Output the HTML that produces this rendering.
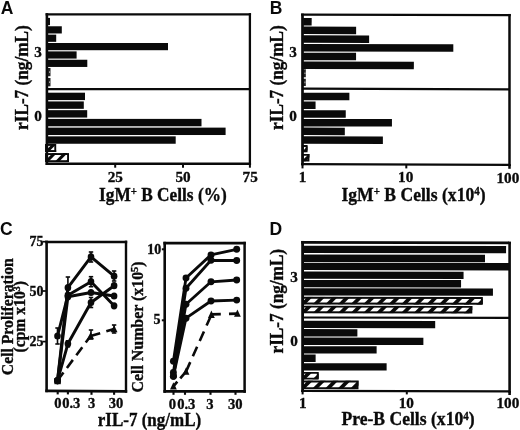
<!DOCTYPE html>
<html><head><meta charset="utf-8"><title>Figure</title>
<style>
html,body{margin:0;padding:0;background:#fff;}
body{width:520px;height:430px;overflow:hidden;font-family:"Liberation Serif",serif;}
svg{display:block;filter:blur(0.35px);}
</style></head><body>
<svg width="520" height="430" viewBox="0 0 520 430">
<rect width="520" height="430" fill="#fff"/>
<g fill="#0a0a0a">
<rect x="46" y="17.9" width="4.0" height="7.2" fill="#0a0a0a"/>
<rect x="46" y="26.269999999999996" width="15.8" height="7.2" fill="#0a0a0a"/>
<rect x="46" y="34.64" width="10.2" height="7.2" fill="#0a0a0a"/>
<rect x="46" y="43.01" width="122.0" height="7.2" fill="#0a0a0a"/>
<rect x="46" y="51.379999999999995" width="30.6" height="7.2" fill="#0a0a0a"/>
<rect x="46" y="59.74999999999999" width="41.3" height="7.2" fill="#0a0a0a"/>
<rect x="46" y="68.0" width="4.5" height="8.2" fill="#222"/>
<rect x="49.2" y="71.3" width="0.9" height="1.6" fill="#ccc"/>
<rect x="46" y="78.0" width="4.5" height="8.3" fill="#222"/>
<rect x="49.2" y="81.35000000000001" width="0.9" height="1.6" fill="#ccc"/>
<rect x="46" y="92.7" width="39.0" height="7.4" fill="#0a0a0a"/>
<rect x="46" y="101.43" width="37.8" height="7.4" fill="#0a0a0a"/>
<rect x="46" y="110.16" width="41.2" height="7.4" fill="#0a0a0a"/>
<rect x="46" y="118.89" width="155.5" height="7.4" fill="#0a0a0a"/>
<rect x="46" y="127.62" width="179.6" height="7.4" fill="#0a0a0a"/>
<rect x="46" y="136.35000000000002" width="129.7" height="7.4" fill="#0a0a0a"/>
<clipPath id="c1"><rect x="46" y="144.0" width="10.20" height="8.0"/></clipPath>
<g clip-path="url(#c1)">
<rect x="46" y="144.0" width="10.20" height="8.0" fill="#fff"/>
<polygon points="44.25,152.0 48.55,152.0 56.55,144.0 52.25,144.0" fill="#0a0a0a"/>
<polygon points="54.85,152.0 59.15,152.0 67.15,144.0 62.85,144.0" fill="#0a0a0a"/>
</g>
<rect x="46" y="144.95" width="9.25" height="6.1" fill="none" stroke="#0a0a0a" stroke-width="1.9"/>
<clipPath id="c2"><rect x="46" y="153.1" width="23.00" height="9.0"/></clipPath>
<g clip-path="url(#c2)">
<rect x="46" y="153.1" width="23.00" height="9.0" fill="#fff"/>
<polygon points="43.75,162.1 48.05,162.1 57.05,153.1 52.75,153.1" fill="#0a0a0a"/>
<polygon points="54.35,162.1 58.65,162.1 67.65,153.1 63.35,153.1" fill="#0a0a0a"/>
<polygon points="64.95,162.1 69.25,162.1 78.25,153.1 73.95,153.1" fill="#0a0a0a"/>
</g>
<rect x="46" y="154.04999999999998" width="22.05" height="7.1" fill="none" stroke="#0a0a0a" stroke-width="1.9"/>
<line x1="46.9" y1="13.15" x2="46.9" y2="165.0" stroke="#0a0a0a" stroke-width="2.6"/>
<line x1="249.9" y1="13.15" x2="249.9" y2="165.0" stroke="#0a0a0a" stroke-width="2.3"/>
<line x1="45.6" y1="14.3" x2="251.05" y2="14.3" stroke="#0a0a0a" stroke-width="2.3"/>
<line x1="45.6" y1="163.8" x2="251.05" y2="163.8" stroke="#0a0a0a" stroke-width="2.4"/>
<line x1="46.9" y1="89.1" x2="249.9" y2="89.1" stroke="#0a0a0a" stroke-width="2.2"/>
<line x1="115.2" y1="163.8" x2="115.2" y2="167.7" stroke="#0a0a0a" stroke-width="2.0"/>
<line x1="183" y1="163.8" x2="183" y2="167.7" stroke="#0a0a0a" stroke-width="2.0"/>
<line x1="249.9" y1="163.8" x2="249.9" y2="167.7" stroke="#0a0a0a" stroke-width="2.0"/>
<text x="0.8" y="14" font-family="Liberation Sans" font-weight="bold" font-size="17.50" text-anchor="start" stroke="#0a0a0a" stroke-width="0.0" >A</text>
<text x="115.3" y="182.4" font-family="Liberation Serif" font-weight="bold" font-size="15.20" text-anchor="middle" stroke="#0a0a0a" stroke-width="0.35" >25</text>
<text x="183" y="182.4" font-family="Liberation Serif" font-weight="bold" font-size="15.20" text-anchor="middle" stroke="#0a0a0a" stroke-width="0.35" >50</text>
<text x="250.2" y="182.4" font-family="Liberation Serif" font-weight="bold" font-size="15.20" text-anchor="middle" stroke="#0a0a0a" stroke-width="0.35" >75</text>
<text x="38" y="57" font-family="Liberation Serif" font-weight="bold" font-size="15.20" text-anchor="middle" stroke="#0a0a0a" stroke-width="0.35" >3</text>
<text x="38" y="121" font-family="Liberation Serif" font-weight="bold" font-size="15.20" text-anchor="middle" stroke="#0a0a0a" stroke-width="0.35" >0</text>
<text x="0" y="0" font-family="Liberation Serif" font-weight="bold" font-size="18.06" text-anchor="middle" transform="translate(28 77.6) rotate(-90) scale(0.9524 1)" stroke="#0a0a0a" stroke-width="0.35" >rIL-7 (ng/mL)</text>
<text x="0" y="0" font-family="Liberation Serif" font-weight="bold" font-size="18.34" text-anchor="middle" transform="translate(162.9 200.7) scale(0.9434 1)" stroke="#0a0a0a" stroke-width="0.35" >IgM<tspan font-size="11.5" dy="-5.5">+</tspan><tspan dy="5.5"> B Cells (%)</tspan></text>
<g transform="rotate(0.14 302 90)">
<rect x="303" y="17.9" width="8.5" height="7.5" fill="#0a0a0a"/>
<rect x="303" y="26.599999999999998" width="53.0" height="7.5" fill="#0a0a0a"/>
<rect x="303" y="35.3" width="66.0" height="7.5" fill="#0a0a0a"/>
<rect x="303" y="44.0" width="150.2" height="7.5" fill="#0a0a0a"/>
<rect x="303" y="52.699999999999996" width="53.0" height="7.5" fill="#0a0a0a"/>
<rect x="303" y="61.4" width="110.8" height="7.5" fill="#0a0a0a"/>
<rect x="303" y="69.2" width="2.8" height="8.0" fill="#222"/>
<rect x="304.5" y="72.4" width="0.9" height="1.6" fill="#ccc"/>
<rect x="303" y="78.7" width="2.8" height="7.4" fill="#222"/>
<rect x="304.5" y="81.60000000000001" width="0.9" height="1.6" fill="#ccc"/>
<rect x="303" y="92.7" width="46.4" height="7.5" fill="#0a0a0a"/>
<rect x="303" y="101.43" width="12.6" height="7.5" fill="#0a0a0a"/>
<rect x="303" y="110.16" width="42.8" height="7.5" fill="#0a0a0a"/>
<rect x="303" y="118.89" width="89.0" height="7.5" fill="#0a0a0a"/>
<rect x="303" y="127.62" width="41.9" height="7.5" fill="#0a0a0a"/>
<rect x="303" y="136.35000000000002" width="80.0" height="7.5" fill="#0a0a0a"/>
<clipPath id="c3"><rect x="303" y="145" width="4.70" height="7.3"/></clipPath>
<g clip-path="url(#c3)">
<rect x="303" y="145" width="4.70" height="7.3" fill="#fff"/>
<polygon points="301.60,152.3 305.90,152.3 313.20,145 308.90,145" fill="#0a0a0a"/>
</g>
<rect x="303" y="145.95" width="3.75" height="5.4" fill="none" stroke="#0a0a0a" stroke-width="1.9"/>
<clipPath id="c4"><rect x="303" y="153.9" width="6.60" height="7.6"/></clipPath>
<g clip-path="url(#c4)">
<rect x="303" y="153.9" width="6.60" height="7.6" fill="#fff"/>
<polygon points="301.45,161.5 305.75,161.5 313.35,153.9 309.05,153.9" fill="#0a0a0a"/>
<polygon points="311.75,161.5 316.05,161.5 323.65,153.9 319.35,153.9" fill="#0a0a0a"/>
</g>
<rect x="303" y="154.85" width="5.65" height="5.699999999999999" fill="none" stroke="#0a0a0a" stroke-width="1.9"/>
</g>
<line x1="302.5" y1="13.549999999999999" x2="302.5" y2="165.29999999999998" stroke="#0a0a0a" stroke-width="2.7"/>
<line x1="509.5" y1="13.95" x2="509.5" y2="166.1" stroke="#0a0a0a" stroke-width="2.5"/>
<line x1="301.15" y1="14.7" x2="510.75" y2="15.1" stroke="#0a0a0a" stroke-width="2.3"/>
<line x1="301.15" y1="164.1" x2="510.75" y2="164.9" stroke="#0a0a0a" stroke-width="2.4"/>
<line x1="302.5" y1="88.6" x2="509.5" y2="89.3" stroke="#0a0a0a" stroke-width="2.2"/>
<line x1="302.5" y1="164.3" x2="302.5" y2="168.4" stroke="#0a0a0a" stroke-width="2.0"/>
<line x1="406.3" y1="164.3" x2="406.3" y2="168.4" stroke="#0a0a0a" stroke-width="2.0"/>
<line x1="509.5" y1="164.9" x2="509.5" y2="168.8" stroke="#0a0a0a" stroke-width="2.5"/>
<text x="269.8" y="14.2" font-family="Liberation Sans" font-weight="bold" font-size="17.50" text-anchor="start" stroke="#0a0a0a" stroke-width="0.0" >B</text>
<text x="302.6" y="182.2" font-family="Liberation Serif" font-weight="bold" font-size="15.20" text-anchor="middle" stroke="#0a0a0a" stroke-width="0.35" >1</text>
<text x="405.7" y="182.4" font-family="Liberation Serif" font-weight="bold" font-size="15.20" text-anchor="middle" stroke="#0a0a0a" stroke-width="0.35" >10</text>
<text x="519.3" y="182.6" font-family="Liberation Serif" font-weight="bold" font-size="15.20" text-anchor="end" stroke="#0a0a0a" stroke-width="0.35" >100</text>
<text x="293" y="56.8" font-family="Liberation Serif" font-weight="bold" font-size="15.20" text-anchor="middle" stroke="#0a0a0a" stroke-width="0.35" >3</text>
<text x="293" y="121" font-family="Liberation Serif" font-weight="bold" font-size="15.20" text-anchor="middle" stroke="#0a0a0a" stroke-width="0.35" >0</text>
<text x="0" y="0" font-family="Liberation Serif" font-weight="bold" font-size="18.06" text-anchor="middle" transform="translate(283 77.6) rotate(-90) scale(0.9524 1)" stroke="#0a0a0a" stroke-width="0.35" >rIL-7 (ng/mL)</text>
<text x="0" y="0" font-family="Liberation Serif" font-weight="bold" font-size="18.48" text-anchor="middle" transform="translate(413.5 200.9) scale(0.9524 1)" stroke="#0a0a0a" stroke-width="0.35" >IgM<tspan font-size="11.5" dy="-5.5">+</tspan><tspan dy="5.5"> B Cells (x10</tspan><tspan font-size="11.5" dy="-5.5">4</tspan><tspan dy="5.5">)</tspan></text>
<g transform="rotate(0.08 302 316)">
<rect x="303" y="245.7" width="203.0" height="7.3" fill="#0a0a0a"/>
<rect x="303" y="254.6" width="181.9" height="7.3" fill="#0a0a0a"/>
<rect x="303" y="262.8" width="207.0" height="7.3" fill="#0a0a0a"/>
<rect x="303" y="271.5" width="160.5" height="7.3" fill="#0a0a0a"/>
<rect x="303" y="279.9" width="158.0" height="7.3" fill="#0a0a0a"/>
<rect x="303" y="288.3" width="189.9" height="7.3" fill="#0a0a0a"/>
<clipPath id="c5"><rect x="303" y="296.8" width="179.80" height="7.7"/></clipPath>
<g clip-path="url(#c5)">
<rect x="303" y="296.8" width="179.80" height="7.7" fill="#fff"/>
<polygon points="299.80,304.5 305.10,304.5 312.80,296.8 307.50,296.8" fill="#0a0a0a"/>
<polygon points="312.40,304.5 317.70,304.5 325.40,296.8 320.10,296.8" fill="#0a0a0a"/>
<polygon points="325.00,304.5 330.30,304.5 338.00,296.8 332.70,296.8" fill="#0a0a0a"/>
<polygon points="337.60,304.5 342.90,304.5 350.60,296.8 345.30,296.8" fill="#0a0a0a"/>
<polygon points="350.20,304.5 355.50,304.5 363.20,296.8 357.90,296.8" fill="#0a0a0a"/>
<polygon points="362.80,304.5 368.10,304.5 375.80,296.8 370.50,296.8" fill="#0a0a0a"/>
<polygon points="375.40,304.5 380.70,304.5 388.40,296.8 383.10,296.8" fill="#0a0a0a"/>
<polygon points="388.00,304.5 393.30,304.5 401.00,296.8 395.70,296.8" fill="#0a0a0a"/>
<polygon points="400.60,304.5 405.90,304.5 413.60,296.8 408.30,296.8" fill="#0a0a0a"/>
<polygon points="413.20,304.5 418.50,304.5 426.20,296.8 420.90,296.8" fill="#0a0a0a"/>
<polygon points="425.80,304.5 431.10,304.5 438.80,296.8 433.50,296.8" fill="#0a0a0a"/>
<polygon points="438.40,304.5 443.70,304.5 451.40,296.8 446.10,296.8" fill="#0a0a0a"/>
<polygon points="451.00,304.5 456.30,304.5 464.00,296.8 458.70,296.8" fill="#0a0a0a"/>
<polygon points="463.60,304.5 468.90,304.5 476.60,296.8 471.30,296.8" fill="#0a0a0a"/>
<polygon points="476.20,304.5 481.50,304.5 489.20,296.8 483.90,296.8" fill="#0a0a0a"/>
</g>
<rect x="303" y="297.75" width="178.85" height="5.800000000000001" fill="none" stroke="#0a0a0a" stroke-width="1.9"/>
<clipPath id="c6"><rect x="303" y="305.7" width="169.30" height="7.5"/></clipPath>
<g clip-path="url(#c6)">
<rect x="303" y="305.7" width="169.30" height="7.5" fill="#fff"/>
<polygon points="299.90,313.2 305.20,313.2 312.70,305.7 307.40,305.7" fill="#0a0a0a"/>
<polygon points="312.50,313.2 317.80,313.2 325.30,305.7 320.00,305.7" fill="#0a0a0a"/>
<polygon points="325.10,313.2 330.40,313.2 337.90,305.7 332.60,305.7" fill="#0a0a0a"/>
<polygon points="337.70,313.2 343.00,313.2 350.50,305.7 345.20,305.7" fill="#0a0a0a"/>
<polygon points="350.30,313.2 355.60,313.2 363.10,305.7 357.80,305.7" fill="#0a0a0a"/>
<polygon points="362.90,313.2 368.20,313.2 375.70,305.7 370.40,305.7" fill="#0a0a0a"/>
<polygon points="375.50,313.2 380.80,313.2 388.30,305.7 383.00,305.7" fill="#0a0a0a"/>
<polygon points="388.10,313.2 393.40,313.2 400.90,305.7 395.60,305.7" fill="#0a0a0a"/>
<polygon points="400.70,313.2 406.00,313.2 413.50,305.7 408.20,305.7" fill="#0a0a0a"/>
<polygon points="413.30,313.2 418.60,313.2 426.10,305.7 420.80,305.7" fill="#0a0a0a"/>
<polygon points="425.90,313.2 431.20,313.2 438.70,305.7 433.40,305.7" fill="#0a0a0a"/>
<polygon points="438.50,313.2 443.80,313.2 451.30,305.7 446.00,305.7" fill="#0a0a0a"/>
<polygon points="451.10,313.2 456.40,313.2 463.90,305.7 458.60,305.7" fill="#0a0a0a"/>
<polygon points="463.70,313.2 469.00,313.2 476.50,305.7 471.20,305.7" fill="#0a0a0a"/>
</g>
<rect x="303" y="306.65" width="168.35" height="5.6" fill="none" stroke="#0a0a0a" stroke-width="1.9"/>
<rect x="303" y="320.7" width="132.2" height="7.3" fill="#0a0a0a"/>
<rect x="303" y="329.1" width="54.4" height="7.3" fill="#0a0a0a"/>
<rect x="303" y="337.6" width="120.4" height="7.3" fill="#0a0a0a"/>
<rect x="303" y="346.2" width="73.7" height="7.3" fill="#0a0a0a"/>
<rect x="303" y="354.6" width="12.7" height="7.3" fill="#0a0a0a"/>
<rect x="303" y="363.2" width="83.7" height="7.3" fill="#0a0a0a"/>
<clipPath id="c7"><rect x="303" y="371.9" width="15.80" height="7.7"/></clipPath>
<g clip-path="url(#c7)">
<rect x="303" y="371.9" width="15.80" height="7.7" fill="#fff"/>
<polygon points="299.80,379.59999999999997 305.10,379.59999999999997 312.80,371.9 307.50,371.9" fill="#0a0a0a"/>
<polygon points="312.40,379.59999999999997 317.70,379.59999999999997 325.40,371.9 320.10,371.9" fill="#0a0a0a"/>
</g>
<rect x="303" y="372.84999999999997" width="14.85" height="5.800000000000001" fill="none" stroke="#0a0a0a" stroke-width="1.9"/>
<clipPath id="c8"><rect x="303" y="380.5" width="55.60" height="8.6"/></clipPath>
<g clip-path="url(#c8)">
<rect x="303" y="380.5" width="55.60" height="8.6" fill="#fff"/>
<polygon points="299.35,389.1 304.65,389.1 313.25,380.5 307.95,380.5" fill="#0a0a0a"/>
<polygon points="311.95,389.1 317.25,389.1 325.85,380.5 320.55,380.5" fill="#0a0a0a"/>
<polygon points="324.55,389.1 329.85,389.1 338.45,380.5 333.15,380.5" fill="#0a0a0a"/>
<polygon points="337.15,389.1 342.45,389.1 351.05,380.5 345.75,380.5" fill="#0a0a0a"/>
<polygon points="349.75,389.1 355.05,389.1 363.65,380.5 358.35,380.5" fill="#0a0a0a"/>
</g>
<rect x="303" y="381.45" width="54.65" height="6.699999999999999" fill="none" stroke="#0a0a0a" stroke-width="1.9"/>
</g>
<line x1="302.6" y1="240.95000000000002" x2="302.6" y2="392.09999999999997" stroke="#0a0a0a" stroke-width="2.8"/>
<line x1="509.6" y1="241.55" x2="509.6" y2="392.59999999999997" stroke="#0a0a0a" stroke-width="2.6"/>
<line x1="301.20000000000005" y1="242.3" x2="510.90000000000003" y2="242.9" stroke="#0a0a0a" stroke-width="2.7"/>
<line x1="301.20000000000005" y1="390.9" x2="510.90000000000003" y2="391.4" stroke="#0a0a0a" stroke-width="2.4"/>
<line x1="302.6" y1="317.5" x2="509.6" y2="317.9" stroke="#0a0a0a" stroke-width="2.2"/>
<line x1="302.6" y1="391" x2="302.6" y2="394.4" stroke="#0a0a0a" stroke-width="2.0"/>
<line x1="406.8" y1="391" x2="406.8" y2="394.4" stroke="#0a0a0a" stroke-width="2.0"/>
<line x1="509.6" y1="391.4" x2="509.6" y2="395" stroke="#0a0a0a" stroke-width="2.6"/>
<text x="269.6" y="235" font-family="Liberation Sans" font-weight="bold" font-size="17.50" text-anchor="start" stroke="#0a0a0a" stroke-width="0.0" >D</text>
<text x="302.8" y="407.8" font-family="Liberation Serif" font-weight="bold" font-size="15.20" text-anchor="middle" stroke="#0a0a0a" stroke-width="0.35" >1</text>
<text x="406.3" y="407.8" font-family="Liberation Serif" font-weight="bold" font-size="15.20" text-anchor="middle" stroke="#0a0a0a" stroke-width="0.35" >10</text>
<text x="519.3" y="407.7" font-family="Liberation Serif" font-weight="bold" font-size="15.20" text-anchor="end" stroke="#0a0a0a" stroke-width="0.35" >100</text>
<text x="294" y="282.3" font-family="Liberation Serif" font-weight="bold" font-size="15.20" text-anchor="middle" stroke="#0a0a0a" stroke-width="0.35" >3</text>
<text x="294" y="346.3" font-family="Liberation Serif" font-weight="bold" font-size="15.20" text-anchor="middle" stroke="#0a0a0a" stroke-width="0.35" >0</text>
<text x="0" y="0" font-family="Liberation Serif" font-weight="bold" font-size="18.06" text-anchor="middle" transform="translate(283 301.2) rotate(-90) scale(0.9524 1)" stroke="#0a0a0a" stroke-width="0.35" >rIL-7 (ng/mL)</text>
<text x="0" y="0" font-family="Liberation Serif" font-weight="bold" font-size="18.48" text-anchor="middle" transform="translate(408 425.4) scale(0.9524 1)" stroke="#0a0a0a" stroke-width="0.35" >Pre-B Cells (x10<tspan font-size="11.5" dy="-5.5">4</tspan><tspan dy="5.5">)</tspan></text>
<text x="0" y="235" font-family="Liberation Sans" font-weight="bold" font-size="17.50" text-anchor="start" stroke="#0a0a0a" stroke-width="0.0" >C</text>
<line x1="46.6" y1="240.65" x2="46.6" y2="392.2" stroke="#0a0a0a" stroke-width="2.6"/>
<line x1="126" y1="240.65" x2="126" y2="392.7" stroke="#0a0a0a" stroke-width="2.4"/>
<line x1="45.300000000000004" y1="241.9" x2="127.2" y2="241.9" stroke="#0a0a0a" stroke-width="2.5"/>
<line x1="45.300000000000004" y1="390.8" x2="127.2" y2="391.3" stroke="#0a0a0a" stroke-width="2.8"/>
<line x1="42.5" y1="241.7" x2="46" y2="241.7" stroke="#0a0a0a" stroke-width="1.7"/>
<text x="43.5" y="246.39999999999998" font-family="Liberation Serif" font-weight="bold" font-size="14.00" text-anchor="end" stroke="#0a0a0a" stroke-width="0.35" >75</text>
<line x1="42.5" y1="291" x2="46" y2="291" stroke="#0a0a0a" stroke-width="1.7"/>
<text x="43.5" y="295.7" font-family="Liberation Serif" font-weight="bold" font-size="14.00" text-anchor="end" stroke="#0a0a0a" stroke-width="0.35" >50</text>
<line x1="42.5" y1="341.6" x2="46" y2="341.6" stroke="#0a0a0a" stroke-width="1.7"/>
<text x="43.5" y="346.3" font-family="Liberation Serif" font-weight="bold" font-size="14.00" text-anchor="end" stroke="#0a0a0a" stroke-width="0.35" >25</text>
<line x1="57.7" y1="390.8" x2="57.7" y2="394.4" stroke="#0a0a0a" stroke-width="2.1"/>
<line x1="67.9" y1="390.8" x2="67.9" y2="394.4" stroke="#0a0a0a" stroke-width="2.1"/>
<line x1="91.5" y1="391.1" x2="91.5" y2="394.8" stroke="#0a0a0a" stroke-width="2.1"/>
<line x1="114.1" y1="391.1" x2="114.1" y2="394.8" stroke="#0a0a0a" stroke-width="2.1"/>
<polyline points="57.5,380.6 67.9,287.7 91,256.9 114.1,276.2" fill="none" stroke="#0a0a0a" stroke-width="2.95" stroke-linejoin="round"/>
<ellipse cx="57.5" cy="380.6" rx="3.3" ry="3.6" fill="#0a0a0a"/>
<ellipse cx="67.9" cy="287.7" rx="3.3" ry="3.6" fill="#0a0a0a"/>
<ellipse cx="91" cy="256.9" rx="3.3" ry="3.6" fill="#0a0a0a"/>
<ellipse cx="114.1" cy="276.2" rx="3.3" ry="3.6" fill="#0a0a0a"/>
<polyline points="57.5,336 67.9,295.2 91,281.7 114.1,305.8" fill="none" stroke="#0a0a0a" stroke-width="2.95" stroke-linejoin="round"/>
<ellipse cx="57.5" cy="336" rx="3.3" ry="3.6" fill="#0a0a0a"/>
<ellipse cx="67.9" cy="295.2" rx="3.3" ry="3.6" fill="#0a0a0a"/>
<ellipse cx="91" cy="281.7" rx="3.3" ry="3.6" fill="#0a0a0a"/>
<ellipse cx="114.1" cy="305.8" rx="3.3" ry="3.6" fill="#0a0a0a"/>
<polyline points="57.5,380.6 67.9,296.8 91,292.5 114.1,296" fill="none" stroke="#0a0a0a" stroke-width="2.95" stroke-linejoin="round"/>
<ellipse cx="57.5" cy="380.6" rx="3.3" ry="3.6" fill="#0a0a0a"/>
<ellipse cx="67.9" cy="296.8" rx="3.3" ry="3.6" fill="#0a0a0a"/>
<ellipse cx="91" cy="292.5" rx="3.3" ry="3.6" fill="#0a0a0a"/>
<ellipse cx="114.1" cy="296" rx="3.3" ry="3.6" fill="#0a0a0a"/>
<polyline points="57.5,380.6 67.9,343.8 91,302.5 114.1,285.7" fill="none" stroke="#0a0a0a" stroke-width="2.95" stroke-linejoin="round"/>
<ellipse cx="57.5" cy="380.6" rx="3.3" ry="3.6" fill="#0a0a0a"/>
<ellipse cx="67.9" cy="343.8" rx="3.3" ry="3.6" fill="#0a0a0a"/>
<ellipse cx="91" cy="302.5" rx="3.3" ry="3.6" fill="#0a0a0a"/>
<ellipse cx="114.1" cy="285.7" rx="3.3" ry="3.6" fill="#0a0a0a"/>
<line x1="57.5" y1="328" x2="57.5" y2="344" stroke="#0a0a0a" stroke-width="1.6"/><line x1="55.3" y1="328" x2="59.7" y2="328" stroke="#0a0a0a" stroke-width="1.6"/><line x1="55.3" y1="344" x2="59.7" y2="344" stroke="#0a0a0a" stroke-width="1.6"/>
<line x1="67.9" y1="277.0" x2="67.9" y2="298.0" stroke="#0a0a0a" stroke-width="1.6"/><line x1="65.7" y1="277.0" x2="70.10000000000001" y2="277.0" stroke="#0a0a0a" stroke-width="1.6"/><line x1="65.7" y1="298.0" x2="70.10000000000001" y2="298.0" stroke="#0a0a0a" stroke-width="1.6"/>
<line x1="91" y1="252" x2="91" y2="262" stroke="#0a0a0a" stroke-width="1.6"/><line x1="88.8" y1="252" x2="93.2" y2="252" stroke="#0a0a0a" stroke-width="1.6"/><line x1="88.8" y1="262" x2="93.2" y2="262" stroke="#0a0a0a" stroke-width="1.6"/>
<line x1="114.1" y1="271" x2="114.1" y2="281" stroke="#0a0a0a" stroke-width="1.6"/><line x1="111.89999999999999" y1="271" x2="116.3" y2="271" stroke="#0a0a0a" stroke-width="1.6"/><line x1="111.89999999999999" y1="281" x2="116.3" y2="281" stroke="#0a0a0a" stroke-width="1.6"/>
<line x1="91" y1="276.7" x2="91" y2="286.7" stroke="#0a0a0a" stroke-width="1.6"/><line x1="88.8" y1="276.7" x2="93.2" y2="276.7" stroke="#0a0a0a" stroke-width="1.6"/><line x1="88.8" y1="286.7" x2="93.2" y2="286.7" stroke="#0a0a0a" stroke-width="1.6"/>
<line x1="91" y1="297.5" x2="91" y2="307.5" stroke="#0a0a0a" stroke-width="1.6"/><line x1="88.8" y1="297.5" x2="93.2" y2="297.5" stroke="#0a0a0a" stroke-width="1.6"/><line x1="88.8" y1="307.5" x2="93.2" y2="307.5" stroke="#0a0a0a" stroke-width="1.6"/>
<line x1="67.9" y1="340.8" x2="67.9" y2="346.8" stroke="#0a0a0a" stroke-width="1.6"/><line x1="65.7" y1="340.8" x2="70.10000000000001" y2="340.8" stroke="#0a0a0a" stroke-width="1.6"/><line x1="65.7" y1="346.8" x2="70.10000000000001" y2="346.8" stroke="#0a0a0a" stroke-width="1.6"/>
<line x1="91" y1="330.0" x2="91" y2="339.0" stroke="#0a0a0a" stroke-width="1.6"/><line x1="88.8" y1="330.0" x2="93.2" y2="330.0" stroke="#0a0a0a" stroke-width="1.6"/><line x1="88.8" y1="339.0" x2="93.2" y2="339.0" stroke="#0a0a0a" stroke-width="1.6"/>
<line x1="114.1" y1="325" x2="114.1" y2="333" stroke="#0a0a0a" stroke-width="1.6"/><line x1="111.89999999999999" y1="325" x2="116.3" y2="325" stroke="#0a0a0a" stroke-width="1.6"/><line x1="111.89999999999999" y1="333" x2="116.3" y2="333" stroke="#0a0a0a" stroke-width="1.6"/>
<polyline points="57.5,380.6 90.6,336" fill="none" stroke="#0a0a0a" stroke-width="2.6" stroke-dasharray="10 5.8"/>
<polyline points="90.6,336 114.1,329" fill="none" stroke="#0a0a0a" stroke-width="2.6" stroke-dasharray="10 6.4"/>
<polygon points="90.6,332.022 93.993,339.315 87.207,339.315" fill="#0a0a0a"/>
<polygon points="114.1,325.022 117.493,332.315 110.707,332.315" fill="#0a0a0a"/>
<rect x="54.4" y="378" width="6.4" height="6.2" fill="#0a0a0a"/>
<text x="57.8" y="407.9" font-family="Liberation Serif" font-weight="bold" font-size="14.50" text-anchor="middle" stroke="#0a0a0a" stroke-width="0.35" >0</text>
<text x="71.2" y="407.9" font-family="Liberation Serif" font-weight="bold" font-size="14.50" text-anchor="middle" stroke="#0a0a0a" stroke-width="0.35" >0.3</text>
<text x="91.6" y="408.1" font-family="Liberation Serif" font-weight="bold" font-size="14.50" text-anchor="middle" stroke="#0a0a0a" stroke-width="0.35" >3</text>
<text x="116" y="408.4" font-family="Liberation Serif" font-weight="bold" font-size="14.50" text-anchor="middle" stroke="#0a0a0a" stroke-width="0.35" >30</text>
<text x="0" y="0" font-family="Liberation Serif" font-weight="bold" font-size="16.17" text-anchor="middle" transform="translate(12.7 316.7) rotate(-90) scale(0.9709 1)" stroke="#0a0a0a" stroke-width="0.35" >Cell Proliferation</text>
<text x="0" y="0" font-family="Liberation Serif" font-weight="bold" font-size="16.17" text-anchor="middle" transform="translate(25.4 316.8) rotate(-90) scale(0.9709 1)" stroke="#0a0a0a" stroke-width="0.35" >(cpm x10<tspan font-size="10" dy="-5.5">3</tspan><tspan dy="5.5">)</tspan></text>
<line x1="164.7" y1="241.79999999999998" x2="164.7" y2="392.79999999999995" stroke="#0a0a0a" stroke-width="2.6"/>
<line x1="244.6" y1="241.79999999999998" x2="244.6" y2="392.79999999999995" stroke="#0a0a0a" stroke-width="2.5"/>
<line x1="163.39999999999998" y1="243.1" x2="245.85" y2="243.1" stroke="#0a0a0a" stroke-width="2.6"/>
<line x1="163.39999999999998" y1="391.4" x2="245.85" y2="391.4" stroke="#0a0a0a" stroke-width="2.8"/>
<line x1="161.8" y1="249.3" x2="165" y2="249.3" stroke="#0a0a0a" stroke-width="2.0"/>
<text x="161.3" y="253.6" font-family="Liberation Serif" font-weight="bold" font-size="14.00" text-anchor="end" stroke="#0a0a0a" stroke-width="0.35" >10</text>
<line x1="161.8" y1="320.3" x2="165" y2="320.3" stroke="#0a0a0a" stroke-width="2.0"/>
<text x="160.6" y="323.6" font-family="Liberation Serif" font-weight="bold" font-size="14.00" text-anchor="end" stroke="#0a0a0a" stroke-width="0.35" >5</text>
<line x1="173.5" y1="391.4" x2="173.5" y2="394.8" stroke="#0a0a0a" stroke-width="2.1"/>
<line x1="185" y1="391.4" x2="185" y2="394.8" stroke="#0a0a0a" stroke-width="2.1"/>
<line x1="210.5" y1="391.4" x2="210.5" y2="394.8" stroke="#0a0a0a" stroke-width="2.1"/>
<line x1="235.5" y1="391.4" x2="235.5" y2="394.8" stroke="#0a0a0a" stroke-width="2.1"/>
<polyline points="173.4,361.3 186,278 211,254.9 236.7,249.3" fill="none" stroke="#0a0a0a" stroke-width="2.8" stroke-linejoin="round"/>
<ellipse cx="173.4" cy="361.3" rx="3.45" ry="3.45" fill="#0a0a0a"/>
<ellipse cx="186" cy="278" rx="3.45" ry="3.45" fill="#0a0a0a"/>
<ellipse cx="211" cy="254.9" rx="3.45" ry="3.45" fill="#0a0a0a"/>
<ellipse cx="236.7" cy="249.3" rx="3.45" ry="3.45" fill="#0a0a0a"/>
<polyline points="173.4,372.5 186,288.3 211,260.3 236.7,260.5" fill="none" stroke="#0a0a0a" stroke-width="2.8" stroke-linejoin="round"/>
<ellipse cx="173.4" cy="372.5" rx="3.45" ry="3.45" fill="#0a0a0a"/>
<ellipse cx="186" cy="288.3" rx="3.45" ry="3.45" fill="#0a0a0a"/>
<ellipse cx="211" cy="260.3" rx="3.45" ry="3.45" fill="#0a0a0a"/>
<ellipse cx="236.7" cy="260.5" rx="3.45" ry="3.45" fill="#0a0a0a"/>
<polyline points="173.4,376.3 186,304.3 211,281.8 236.7,280" fill="none" stroke="#0a0a0a" stroke-width="2.8" stroke-linejoin="round"/>
<ellipse cx="173.4" cy="376.3" rx="3.45" ry="3.45" fill="#0a0a0a"/>
<ellipse cx="186" cy="304.3" rx="3.45" ry="3.45" fill="#0a0a0a"/>
<ellipse cx="211" cy="281.8" rx="3.45" ry="3.45" fill="#0a0a0a"/>
<ellipse cx="236.7" cy="280" rx="3.45" ry="3.45" fill="#0a0a0a"/>
<polyline points="173.4,376.3 186,318.2 211,301 236.7,300.1" fill="none" stroke="#0a0a0a" stroke-width="2.8" stroke-linejoin="round"/>
<ellipse cx="173.4" cy="376.3" rx="3.45" ry="3.45" fill="#0a0a0a"/>
<ellipse cx="186" cy="318.2" rx="3.45" ry="3.45" fill="#0a0a0a"/>
<ellipse cx="211" cy="301" rx="3.45" ry="3.45" fill="#0a0a0a"/>
<ellipse cx="236.7" cy="300.1" rx="3.45" ry="3.45" fill="#0a0a0a"/>
<polyline points="173.4,386.3 186,371.6" fill="none" stroke="#0a0a0a" stroke-width="2.7" stroke-dasharray="9 4.5" stroke-dashoffset="3"/>
<polyline points="186,371.6 211.3,315" fill="none" stroke="#0a0a0a" stroke-width="2.6" stroke-dasharray="10.4 6.4 10.4 6.4 10.4 6.4 14 6"/>
<polyline points="211,314.4 237,313.6" fill="none" stroke="#0a0a0a" stroke-width="2.6" stroke-dasharray="9.8 8.2 9 30"/>
<polygon points="173.4,382.222 176.793,389.515 170.007,389.515" fill="#0a0a0a"/>
<polygon points="186,367.42199999999997 189.393,374.715 182.607,374.715" fill="#0a0a0a"/>
<polygon points="211.4,310.622 214.793,317.915 208.007,317.915" fill="#0a0a0a"/>
<polygon points="237.4,309.42199999999997 240.793,316.715 234.007,316.715" fill="#0a0a0a"/>
<text x="172.4" y="408.6" font-family="Liberation Serif" font-weight="bold" font-size="14.60" text-anchor="middle" stroke="#0a0a0a" stroke-width="0.35" >0</text>
<text x="186.3" y="408.6" font-family="Liberation Serif" font-weight="bold" font-size="14.60" text-anchor="middle" stroke="#0a0a0a" stroke-width="0.35" >0.3</text>
<text x="210" y="408.6" font-family="Liberation Serif" font-weight="bold" font-size="14.60" text-anchor="middle" stroke="#0a0a0a" stroke-width="0.35" >3</text>
<text x="235.3" y="408.6" font-family="Liberation Serif" font-weight="bold" font-size="14.60" text-anchor="middle" stroke="#0a0a0a" stroke-width="0.35" >30</text>
<text x="0" y="0" font-family="Liberation Serif" font-weight="bold" font-size="16.38" text-anchor="middle" transform="translate(143.2 327) rotate(-90) scale(0.9709 1)" stroke="#0a0a0a" stroke-width="0.35" >Cell Number (x10<tspan font-size="10.5" dy="-5.5">5</tspan><tspan dy="5.5">)</tspan></text>
<text x="0" y="0" font-family="Liberation Serif" font-weight="bold" font-size="17.85" text-anchor="middle" transform="translate(149.5 425.6) scale(0.9524 1)" stroke="#0a0a0a" stroke-width="0.35" >rIL-7 (ng/mL)</text>
</g>
</svg>
</body></html>
